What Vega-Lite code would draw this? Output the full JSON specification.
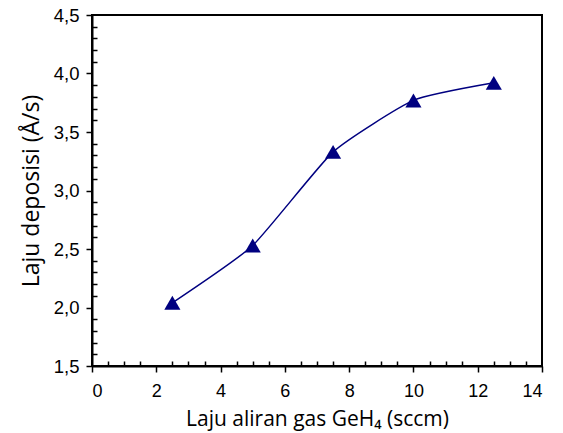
{
  "$schema": "https://vega.github.io/schema/vega-lite/v6.json",
  "autosize": "none",
  "width": 450,
  "height": 351,
  "padding": {"left": 92, "top": 15, "right": 21, "bottom": 67},
  "background": "white",
  "config": {
    "view": {"stroke": "black", "strokeWidth": 2},
    "font": "Liberation Sans"
  },
  "data": {
    "values": [
      {"flow": 2.5, "rate": 2.04},
      {"flow": 5, "rate": 2.53},
      {"flow": 7.5, "rate": 3.33},
      {"flow": 10, "rate": 3.77},
      {"flow": 12.5, "rate": 3.92}
    ]
  },
  "layer": [
    {
      "mark": {"type": "line", "color": "#000080", "strokeWidth": 1.5, "interpolate": "cardinal", "tension": 0.5},
      "encoding": {
        "x": {
          "field": "flow", "type": "quantitative",
          "scale": {"domain": [0, 14], "nice": false, "zero": false},
          "axis": {
            "orient": "bottom",
            "title": "Laju aliran gas GeH₄ (sccm)",
            "titleFont": "Open Sans",
            "values": [0, 2, 4, 6, 8, 10, 12, 14],
            "grid": false,
            "domainColor": "black", "domainWidth": 2,
            "tickColor": "black", "tickSize": 6, "tickWidth": 1.5,
            "labelFontSize": 18, "labelColor": "black", "labelPadding": 10,
            "titleFontSize": 21, "titleFontWeight": "normal", "titleColor": "black", "titlePadding": 8
          }
        },
        "y": {
          "field": "rate", "type": "quantitative",
          "scale": {"domain": [1.5, 4.5], "nice": false, "zero": false},
          "axis": {
            "orient": "left",
            "title": "Laju deposisi (Å/s)",
            "titleFont": "Open Sans",
            "values": [1.5, 2, 2.5, 3, 3.5, 4, 4.5],
            "labelExpr": "replace(format(datum.value, '.1f'), '.', ',')",
            "grid": false,
            "domainColor": "black", "domainWidth": 2,
            "tickColor": "black", "tickSize": 6, "tickWidth": 1.5,
            "labelFontSize": 18.5, "labelColor": "black", "labelPadding": 7,
            "titleFontSize": 23, "titleFontWeight": "normal", "titleColor": "black", "titlePadding": 10
          }
        }
      }
    },
    {
      "mark": {"type": "point", "shape": "triangle-up", "filled": true, "color": "#000080", "opacity": 1, "size": 260},
      "encoding": {
        "x": {
          "field": "flow", "type": "quantitative",
          "axis": {
            "orient": "bottom",
            "title": null, "labels": false, "domain": false, "grid": false,
            "values": [0.5, 1, 1.5, 2.5, 3, 3.5, 4.5, 5, 5.5, 6.5, 7, 7.5, 8.5, 9, 9.5, 10.5, 11, 11.5, 12.5, 13, 13.5],
            "tickColor": "black", "tickSize": -5, "tickWidth": 1.5
          }
        },
        "y": {
          "field": "rate", "type": "quantitative",
          "axis": {
            "orient": "left",
            "title": null, "labels": false, "domain": false, "grid": false,
            "values": [1.6, 1.7, 1.8, 1.9, 2.1, 2.2, 2.3, 2.4, 2.6, 2.7, 2.8, 2.9, 3.1, 3.2, 3.3, 3.4, 3.6, 3.7, 3.8, 3.9, 4.1, 4.2, 4.3, 4.4],
            "tickColor": "black", "tickSize": -5, "tickWidth": 1.5
          }
        }
      }
    }
  ],
  "resolve": {"axis": {"x": "independent", "y": "independent"}}
}
